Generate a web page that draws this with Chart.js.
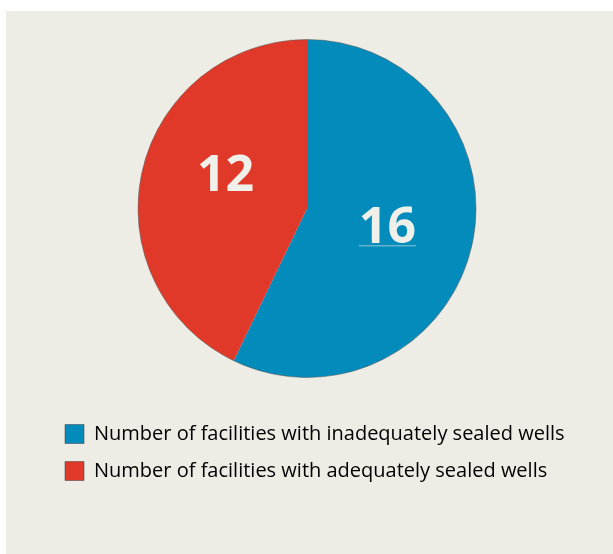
<!DOCTYPE html>
<html lang="en">
<head>
<meta charset="UTF-8">
<title>Sealed wells</title>
<script src="https://cdn.jsdelivr.net/npm/chart.js"></script>
<style>
    html, body { margin: 0; padding: 0; background: #ffffff; }
    .painel { position: absolute; left: 6px; top: 11px; width: 607px; height: 543px; background: #edede6; }
    #grafico { position: absolute; left: 0; top: 0; }
</style>
</head>
<body>
<div class="painel"></div>
<canvas id="grafico" width="613" height="554"></canvas>

<script>
const categorias = [
    'Number of facilities with inadequately sealed wells',
    'Number of facilities with adequately sealed wells'
];
const valores = [16, 12];
const cores = ['#038bbb', '#e0392a'];

// numeros brancos dentro das fatias
const rotulos = {
    id: 'rotulos',
    afterDatasetsDraw(chart) {
        const ctx = chart.ctx;
        const arcos = chart.getDatasetMeta(0).data;
        ctx.save();
        // contorno fino do circulo
        const a0 = arcos[0];
        ctx.beginPath();
        ctx.arc(a0.x, a0.y, a0.outerRadius, 0, Math.PI * 2);
        ctx.strokeStyle = 'rgba(90,90,90,0.55)';
        ctx.lineWidth = 1;
        ctx.stroke();

        ctx.font = 'bold 50px "Open Sans"';
        ctx.textAlign = 'center';
        ctx.textBaseline = 'middle';
        ctx.fillStyle = '#f0f0ea';
        const ajustes = [[-2, -2], [1, -16]];
        arcos.forEach((arco, i) => {
            const meio = (arco.startAngle + arco.endAngle) / 2;
            const r = arco.outerRadius * 0.5;
            const x = arco.x + Math.cos(meio) * r + ajustes[i][0];
            const y = arco.y + Math.sin(meio) * r + ajustes[i][1];
            ctx.fillText(String(valores[i]), x, y + 3);
            if (i === 0) {
                const w = ctx.measureText(String(valores[i])).width;
                ctx.fillStyle = 'rgba(240,240,234,0.6)';
                ctx.fillRect(x - w / 2, y + 20, w, 1);
                ctx.fillStyle = '#f0f0ea';
            }
        });
        ctx.restore();
    }
};

new Chart(document.getElementById('grafico'), {
    type: 'pie',
    data: {
        labels: categorias,
        datasets: [{
            data: valores,
            backgroundColor: cores,
            borderWidth: 0,
            radius: 169
        }]
    },
    options: {
        responsive: false,
        animation: false,
        layout: { padding: { left: 48, right: 47, top: 10, bottom: 63 } },
        plugins: {
            tooltip: { enabled: false },
            legend: {
                position: 'bottom',
                align: 'start',
                labels: {
                    boxWidth: 19,
                    boxHeight: 19,
                    padding: 17,
                    color: '#151515',
                    font: { family: '"Open Sans"', size: 20 },
                    generateLabels(chart) {
                        return categorias.map((c, i) => ({
                            text: c,
                            fillStyle: cores[i],
                            strokeStyle: 'rgba(60,60,60,0.5)',
                            lineWidth: 1,
                            index: i
                        }));
                    }
                }
            }
        }
    },
    plugins: [rotulos]
});
</script>
</body>
</html>
